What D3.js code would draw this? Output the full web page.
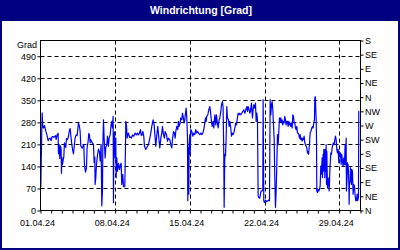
<!DOCTYPE html>
<html>
<head>
<meta charset="utf-8">
<script src="https://cdn.jsdelivr.net/npm/d3@7"></script>
<style>
  body { margin: 0; background: #fff; }
  svg { display: block; }
</style>
</head>
<body>
<script>
// Windrichtung April 2024: [Stunden seit 01.04.24 00:00, Grad]
const richtung = [
  [0,205],[0.7,75],[2.2,200],[3.7,310],[5.2,265],[6.7,262],[8.9,270],[11.9,252],[14.9,238],[17.2,222],
  [19.4,228],[21.7,230],[23.9,222],[26.2,235],[28.4,235],[29.9,232],[33.7,238],[35.2,226],[37.4,240],[39.7,245],
  [40.4,180],[41.9,210],[43.4,165],[44.9,205],[46.4,195],[47.2,118],[47.9,170],[49.4,146],[50.9,160],[52.4,170],
  [53.9,215],[56.9,200],[58.4,228],[60.7,225],[62.9,235],[65.2,256],[66.7,260],[68.9,230],[70.4,210],[72.6,190],
  [74.2,180],[75.6,200],[77.9,230],[80.2,240],[82.4,238],[85.4,278],[87.6,268],[89.2,250],[90.6,205],[93.7,198],
  [95.9,205],[97.4,210],[98.9,145],[101.2,122],[103.4,135],[104.9,200],[107.2,220],[108.7,245],[110.2,240],[111.6,215],
  [113.2,225],
  [115.4,218],[117.7,212],[119.2,210],[120.7,152],[122.2,170],[122.9,83],[124.4,104],[125.9,146],[128.2,175],[130.4,195],
  [132.7,185],[134.2,157],[136.4,210],[137.9,15],[139.4,60],[140.2,200],[141.7,288],[143.2,230],[145.4,167],[146.9,200],
  [149.2,209],[150.7,236],[152.9,204],[154.4,230],[156.7,240],[158.9,273],[160.4,283],[161.9,262],[163.4,299],[164.2,25],
  [164.9,180],[165.7,200],[166.4,250],[167.9,167],[169.4,230],[170.2,104],[171.7,167],[173.2,125],[175.4,150],[177.7,130],
  [179.9,145],[181.4,150],[182.9,83],[185.2,115],[186.7,76],[189.7,76],[191.2,200],[191.9,283],[193.4,272],[194.9,230],
  [196.4,240],[197.9,246],[200.2,232],[202.4,234],[204.7,230],[206.9,240],[209.9,236],[212.9,246],[215.9,240],[218.2,246],
  [220.4,240],[222.7,246],[224.9,257],[226.4,240],[227.9,238],[230.2,251],[232.4,236],[233.9,204],
  [236.9,194],[240.7,204],[242.9,209],[245.9,230],[248.2,246],[250.4,267],[253.4,288],[255.7,272],[257.9,230],[259.4,204],
  [261.7,241],[263.9,267],[266.9,220],[268.4,199],[270.7,230],[272.9,246],[274.4,267],[276.7,241],[278.9,230],[280.4,251],
  [283.4,241],[285.7,220],[287.9,230],[290.9,225],[293.2,209],[295.4,199],[296.9,225],[299.2,251],[301.4,246],[302.9,230],
  [304.4,251],[306.7,267],[308.9,257],[310.4,283],[311.9,267],[314.2,278],[315.7,294],[317.9,288],[319.4,309],[320.9,299],
  [323.2,278],[324.7,288],[326.2,309],[327.7,325],[329.2,294],[330.7,230],[331.4,31],[332.2,200],[332.9,104],[333.7,52],
  [334.4,209],[335.9,241],[336.7,178],[338.2,257],[340.4,251],[342.7,236],[344.9,246],[347.2,241],[349.4,257],[351.7,246],
  [353.9,251],[355.4,246],
  [358.4,241],[360.7,246],[362.9,241],[365.2,246],[367.4,257],[369.7,278],[371.2,294],[372.7,283],[374.2,299],[376.4,304],
  [378.7,320],[380.9,330],[382.4,315],[384.7,283],[386.2,267],[388.4,283],[389.9,262],[392.2,304],[394.4,272],[395.9,304],
  [397.4,283],[399.7,262],[401.9,288],[403.4,294],[405.7,315],[407.2,336],[409.4,346],[410.9,325],[412.4,178],[413.2,10],
  [414.7,178],[416.2,173],[417.7,230],[419.2,330],[420.7,294],[422.9,288],[424.4,267],[425.9,283],[428.2,262],[429.7,236],
  [431.2,246],[433.4,241],[435.7,251],[437.9,267],[439.4,278],[440.9,272],[443.2,294],[444.7,309],[446.9,304],[448.4,309],
  [450.7,304],[452.9,309],[455.2,315],[457.4,320],[459.7,309],[461.9,320],[464.2,330],[465.7,315],[467.2,330],[469.4,320],
  [470.9,309],[472.4,315],[474.7,341],[476.9,294],[478.4,320],
  [479.9,336],[482.2,325],[483.7,341],[485.2,283],[486.7,309],[488.2,288],[489.7,46],[491.2,41],[493.4,39],[494.9,52],
  [496.4,62],[498.7,62],[500.2,67],[500.9,352],[501.7,188],[502.4,31],[503.9,25],[506.2,33],[508.4,28],[511.4,31],
  [513.7,33],[515.2,31],[516.7,352],[518.2,304],[519.7,336],[521.2,346],[522.7,320],[524.2,272],[525.7,230],[527.2,104],
  [528.7,10],[530.2,62],[531.7,146],[533.2,241],[534.7,209],[536.2,251],[537.7,294],[539.2,283],[540.7,294],[542.2,278],
  [543.7,288],[545.2,272],[546.7,283],[548.2,278],[549.7,299],[551.2,288],[552.7,272],[554.2,283],[555.7,283],[557.2,267],
  [558.7,283],[560.2,272],[561.7,278],[563.2,267],[564.7,278],[566.2,262],[567.7,304],[569.2,299],[570.7,278],[572.2,278],
  [573.7,262],[575.2,257],[576.7,267],[578.2,246],[579.7,246],[581.2,241],[582.7,230],[584.2,241],[585.7,225],[587.2,230],
  [588.7,220],[590.2,230],[591.7,225],[593.2,236],[594.7,215],[596.2,209],[597.7,204],[599.2,199],[600.7,183],
  [601.4,188],[602.9,178],[605.2,209],[606.7,246],[608.2,251],[610.4,262],[611.9,267],[613.4,262],[614.9,278],[616.4,288],
  [617.2,357],[617.9,362],[618.7,357],[619.4,315],[620.2,294],[620.9,241],[621.7,62],[623.2,57],[624.7,67],[626.2,62],
  [627.7,67],[629.2,78],[630.7,141],[631.4,115],[632.2,125],[633.7,167],[634.4,104],[635.9,178],[636.7,125],[637.4,194],
  [638.9,167],[639.7,104],[640.4,194],[641.9,125],[642.7,209],[643.4,83],[644.2,188],[645.7,73],[647.2,104],[648.7,83],
  [649.4,62],[650.2,83],[650.9,125],[651.7,146],[653.2,183],[654.7,178],[656.2,199],[657.7,209],[659.2,215],[660.7,209],
  [662.2,225],[663.7,236],[665.2,225],[666.7,194],[668.2,183],[669.7,194],[671.2,152],[671.9,188],[673.4,173],[674.9,183],
  [676.4,146],[677.9,178],[679.4,157],[680.9,141],[682.4,167],[683.9,146],[685.4,209],[686.2,146],[687.7,230],[688.4,62],
  [689.9,104],[690.7,152],[691.4,125],[692.2,146],[693.7,94],[694.4,20],[695.2,83],[696.7,94],[697.4,136],[698.9,104],
  [699.7,83],[700.4,131],[701.9,125],[703.4,52],[704.9,83],[706.4,78],[707.9,46],[709.4,31],[710.9,31],[712.4,52],
  [713.9,31],[715.4,41],[716.2,315],[716.9,315]
];

const gradTicks = [0, 70, 140, 210, 280, 350, 420, 490];
const kompass = ["N", "NE", "E", "SE", "S", "SW", "W", "NW", "N", "NE", "E", "SE", "S"];
const kompassTicks = [0, 45, 90, 135, 180, 225, 270, 315, 360, 405, 450, 495, 540];
const wochenTage = [1, 8, 15, 22, 29];

const start = new Date(2024, 3, 1);
const ende = new Date(2024, 4, 1);
const font = "'Liberation Sans', Arial, sans-serif";

const svg = d3.select("body").append("svg")
  .attr("width", 400)
  .attr("height", 250);

//Background, frame and title bar
svg.append("rect").attr("width", 400).attr("height", 250).attr("fill", "#fff");
svg.append("rect")
  .attr("x", 1).attr("y", 1).attr("width", 398).attr("height", 248)
  .attr("fill", "none").attr("stroke", "#000080").attr("stroke-width", 2);
svg.append("rect").attr("width", 400).attr("height", 21).attr("fill", "#000080");
svg.append("text")
  .attr("x", 201).attr("y", 14)
  .attr("text-anchor", "middle")
  .attr("fill", "#fff")
  .attr("font-family", font)
  .attr("font-weight", "bold")
  .attr("font-size", "10.5px")
  .text("Windrichtung [Grad]");

//Scales
const x = d3.scaleTime().domain([start, ende]).range([40.5, 360.5]);
const y = d3.scaleLinear().domain([0, 540]).range([210.5, 40.5]);

//Grid lines
const grid = svg.append("g")
  .attr("stroke", "#000")
  .attr("stroke-dasharray", "4,3");
grid.selectAll("line.h")
  .data(gradTicks.slice(1))
  .enter().append("line")
    .attr("x1", x(start)).attr("x2", x(ende))
    .attr("y1", d => Math.round(y(d)) + 0.5)
    .attr("y2", d => Math.round(y(d)) + 0.5);
grid.selectAll("line.v")
  .data(wochenTage.slice(1))
  .enter().append("line")
    .attr("x1", d => Math.round(x(new Date(2024, 3, d))) + 0.5)
    .attr("x2", d => Math.round(x(new Date(2024, 3, d))) + 0.5)
    .attr("y1", y(540)).attr("y2", y(0));

//Data line
svg.append("clipPath").attr("id", "plot")
  .append("rect")
    .attr("x", x(start)).attr("y", y(540))
    .attr("width", x(ende) - x(start)).attr("height", y(0) - y(540));

const line = d3.line()
  .x(d => x(new Date(start.getTime() + d[0] * 3600e3)))
  .y(d => y(d[1]));

svg.append("path")
  .datum(richtung)
  .attr("clip-path", "url(#plot)")
  .attr("fill", "none")
  .attr("stroke", "#0000ff")
  .attr("stroke-width", 1.2)
  .attr("stroke-linejoin", "round")
  .attr("d", line);

//Plot frame
svg.append("rect")
  .attr("x", x(start)).attr("y", y(540))
  .attr("width", x(ende) - x(start)).attr("height", y(0) - y(540))
  .attr("fill", "none").attr("stroke", "#000");

//Axes
const styleAxis = g => {
  g.attr("font-family", font).attr("font-size", "9px");
  g.select(".domain").remove();
  g.selectAll("line").attr("stroke", "#000");
  g.selectAll("text").attr("fill", "#000");
};

svg.append("g")
  .attr("transform", "translate(" + x(start) + ",0)")
  .call(d3.axisLeft(y).tickValues(gradTicks).tickSize(3).tickPadding(1.5))
  .call(styleAxis);

svg.append("g")
  .attr("transform", "translate(" + x(ende) + ",0)")
  .call(d3.axisRight(y).tickValues(kompassTicks).tickSize(3).tickPadding(1.5)
    .tickFormat((d, i) => kompass[i]))
  .call(styleAxis);

const fmt = d3.timeFormat("%d.%m.%y");
svg.append("g")
  .attr("transform", "translate(0," + y(0) + ")")
  .call(d3.axisBottom(x).ticks(d3.timeDay.every(1)).tickSize(3).tickPadding(6)
    .tickFormat(d => wochenTage.includes(d.getDate()) && d.getMonth() === 3 ? fmt(d) : ""))
  .call(styleAxis)
  .selectAll("text").attr("dx", -3.5);

//Unit label
svg.append("text")
  .attr("x", 37).attr("y", 48)
  .attr("text-anchor", "end")
  .attr("font-family", font)
  .attr("font-size", "9px")
  .text("Grad");
</script>
</body>
</html>
